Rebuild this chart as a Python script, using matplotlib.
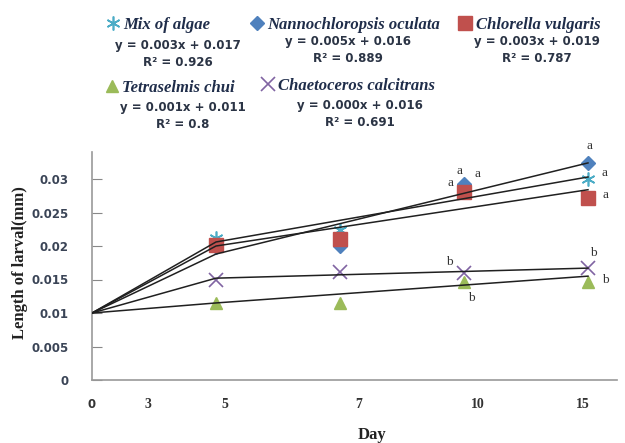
import matplotlib
matplotlib.use("Agg")
import matplotlib.pyplot as plt

# ---------------- data ----------------
series_names = ["Mix of algae", "Nannochloropsis oculata", "Chlorella vulgaris",
                "Tetraselmis chui", "Chaetoceros calcitrans"]
# category index positions: 0 = start, 1 = day 5, 2 = day 7, 3 = day 10, 4 = day 15
point_idx = [1, 2, 3, 4]
mix_vals = [0.0212, 0.0224, 0.0285, 0.0300]
nanno_vals = [0.0198, 0.0200, 0.0293, 0.0324]
chlorella_vals = [0.0201, 0.0210, 0.0281, 0.0272]
tetra_vals = [0.0115, 0.0115, 0.0146, 0.0146]
chaeto_vals = [0.0149, 0.0161, 0.0160, 0.0167]

# black fitted lines: start, day 5, day 15
line_idx = [0, 1, 4]
mix_line = [0.0100, 0.0206, 0.0303]
nanno_line = [0.0100, 0.0188, 0.0324]
chlorella_line = [0.0100, 0.0200, 0.0284]
tetra_line = [0.0100, 0.0115, 0.0155]
chaeto_line = [0.0100, 0.0152, 0.0167]

equations = ["y = 0.003x + 0.017", "y = 0.005x + 0.016", "y = 0.003x + 0.019",
             "y = 0.001x + 0.011", "y = 0.000x + 0.016"]
r2_texts = ["R² = 0.926", "R² = 0.889", "R² = 0.787", "R² = 0.8", "R² = 0.691"]

x_tick_labels = ["0", "3", "5", "7", "10", "15"]
y_ticks = [0, 0.005, 0.01, 0.015, 0.02, 0.025, 0.03]
y_tick_labels = ["0", "0.005", "0.01", "0.015", "0.02", "0.025", "0.03"]

letters = ["a", "a", "a", "b", "b", "a", "a", "a", "b", "b"]
letter_x = [2.89, 2.96, 3.11, 2.88, 3.06, 4.01, 4.13, 4.14, 4.04, 4.14]
letter_y = [0.0294, 0.0312, 0.0307, 0.0176, 0.0122, 0.0349, 0.0309, 0.0276, 0.0190, 0.0149]

# ---------------- style ----------------
colors = ["#4BACC6", "#4F81BD", "#C0504D", "#9BBB59", "#8064A2"]
markers = [(6, 2, 0), "D", "s", "^", "x"]
msizes = [10, 7, 9.5, 9, 10]
mews = [1.2, 1, 1, 1, 1.2]

fig = plt.figure(figsize=(6.25, 4.43), dpi=100)
ax = fig.add_axes([92 / 625, 1 - 380 / 443, (617 - 92) / 625, (380 - 152) / 443])

all_vals = [mix_vals, nanno_vals, chlorella_vals, tetra_vals, chaeto_vals]
all_lines = [mix_line, nanno_line, chlorella_line, tetra_line, chaeto_line]
handles = []
for vals, c, m, ms, mew in zip(all_vals, colors, markers, msizes, mews):
    h, = ax.plot(point_idx, vals, linestyle="none", marker=m, markersize=ms,
                 color=c, markeredgecolor=c, markeredgewidth=mew, zorder=3)
    handles.append(h)
for lv in all_lines:
    ax.plot(line_idx, lv, color="#202020", lw=1.1, zorder=4)

ax.set_xlim(0, (617 - 92) / 124)
ax.set_ylim(0, (380 - 152) / 6700)

tick_pos = [(90 - 92) / 124, (148 - 92) / 124, (225 - 92) / 124,
            (359 - 92) / 124, (478 - 92) / 124, (583 - 92) / 124]
ax.set_xticks(tick_pos[1:])
ax.set_xticklabels(x_tick_labels[1:], fontfamily="Liberation Serif",
                   fontweight="bold", fontsize=10, color="#333333")
ax.tick_params(axis="x", length=0, pad=13)
ax.text(0, -0.0037, x_tick_labels[0], ha="center", va="center",
        fontfamily="DejaVu Sans", fontweight="bold", fontsize=8.5, color="#333333")

ax.set_yticks(y_ticks)
ax.set_yticklabels(y_tick_labels, fontfamily="DejaVu Sans", fontweight="bold",
                   fontsize=8.5, color="#3a4456")
ax.tick_params(axis="y", direction="in", length=7, width=0.8, color="#888888", pad=17)

for s in ["top", "right"]:
    ax.spines[s].set_visible(False)
for s in ["left", "bottom"]:
    ax.spines[s].set_color("#999999")
    ax.spines[s].set_linewidth(1.2)

for t, lx, ly in zip(letters, letter_x, letter_y):
    ax.text(lx, ly, t, ha="center", va="center", fontfamily="Liberation Serif",
            fontsize=9.5, color="#333333", clip_on=False)

fig.text(20 / 625, 1 - 263 / 443, "Length of larval(mm)", rotation=90,
         ha="center", va="center", fontfamily="Liberation Serif",
         fontweight="bold", fontsize=12, color="#222222")
fig.text(372 / 625, 1 - 435 / 443, "Day", ha="center", va="center",
         fontfamily="Liberation Serif", fontweight="bold", fontsize=12,
         color="#222222")

# ---------------- legend blocks ----------------
name_pos = [(106, 25), (250, 25), (458, 25), (105, 88), (261, 86)]
eq_pos = [(178, 45), (348, 42), (537, 42), (183, 108), (360, 106)]
r2_pos = [(178, 62), (348, 58), (537, 58), (183, 125), (360, 122)]
for i in range(5):
    nx, ny = name_pos[i]
    lg = fig.legend([handles[i]], [series_names[i]], loc="center left",
                    bbox_to_anchor=(nx / 625, 1 - ny / 443), frameon=False,
                    borderpad=0, borderaxespad=0, handlelength=0.8,
                    handletextpad=0.25, numpoints=1,
                    prop={"family": "Liberation Serif", "style": "italic",
                          "weight": "bold", "size": 12})
    for t in lg.get_texts():
        t.set_color("#1f2d4a")
    ex, ey = eq_pos[i]
    fig.text(ex / 625, 1 - ey / 443, equations[i], ha="center", va="center",
             fontfamily="DejaVu Sans", fontweight="bold", fontsize=8.5,
             color="#2b3445")
    rx, ry = r2_pos[i]
    fig.text(rx / 625, 1 - ry / 443, r2_texts[i], ha="center", va="center",
             fontfamily="DejaVu Sans", fontweight="bold", fontsize=8.5,
             color="#2b3445")

fig.savefig("out.png", dpi=100)
